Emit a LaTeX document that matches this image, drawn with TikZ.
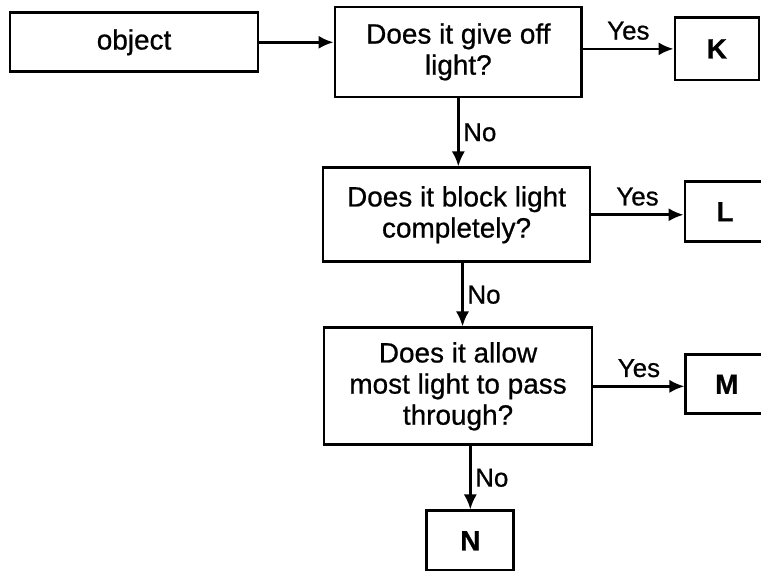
\documentclass[tikz,border=0pt]{standalone}
\usepackage{fontspec}
\setmainfont{Liberation Sans}[FakeBold=0.7]
\usetikzlibrary{arrows.meta}

\begin{document}
\begin{tikzpicture}[line width=2.6pt,
		box/.style={draw, inner sep=0pt, align=center, font=\fontsize{26.5}{29.5}\selectfont},
		endbox/.style={box, font=\fontsize{26.5}{29.5}\selectfont\bfseries},
		flow/.style={-{Latex[length=5mm,width=4.4mm]}},
		lbl/.style={font=\fontsize{24.6}{28}\selectfont}]
		\useasboundingbox (0,0) rectangle (25.37,19.03);

		% start box
		\node[box, minimum width=8.27cm, minimum height=1.97cm] (object) at (4.47,17.62) {object};

		% questions down the middle
		\node[box, minimum width=8.23cm, minimum height=3.0cm] (q1) at (15.28,17.30) {Does it give off\\light?};
		\node[box, minimum width=8.9cm, minimum height=3.13cm] (q2) at (15.22,11.87) {Does it block light\\completely?};
		\node[box, minimum width=8.93cm, minimum height=3.9cm] (q3) at (15.27,6.15) {Does it allow\\most light to pass\\through?};

		% answer boxes
		\node[endbox, minimum width=2.8cm, minimum height=2.07cm] (K) at (23.9,17.4) {K};
		\node[endbox, minimum width=2.67cm, minimum height=2.0cm] (L) at (24.17,11.97) {L};
		\node[endbox, minimum width=2.73cm, minimum height=1.97cm] (M) at (24.23,6.22) {M};
		\node[endbox, minimum width=2.9cm, minimum height=2.0cm] (N) at (15.68,1.0) {N};

		% connectors
		\draw[flow] (object.east) -- (object.east -| q1.west);
		\draw[flow] (q1.east |- K) -- (K.west) node[lbl, midway, above=4pt] {Yes};
		\draw[flow] (q1.south) -- (q1.south |- q2.north) node[lbl, midway, right] {No};
		\draw[flow] (q2.east) -- (q2.east -| L.west) node[lbl, midway, above=4pt] {Yes};
		\draw[flow] ([xshift=0.2cm]q2.south) -- ([xshift=0.2cm]q2.south |- q3.north) node[lbl, midway, right] {No};
		\draw[flow] (q3.east) -- (q3.east -| M.west) node[lbl, midway, above=4pt] {Yes};
		\draw[flow] (q3.south -| N.north) -- (N.north) node[lbl, midway, right] {No};
	\end{tikzpicture}
\end{document}
